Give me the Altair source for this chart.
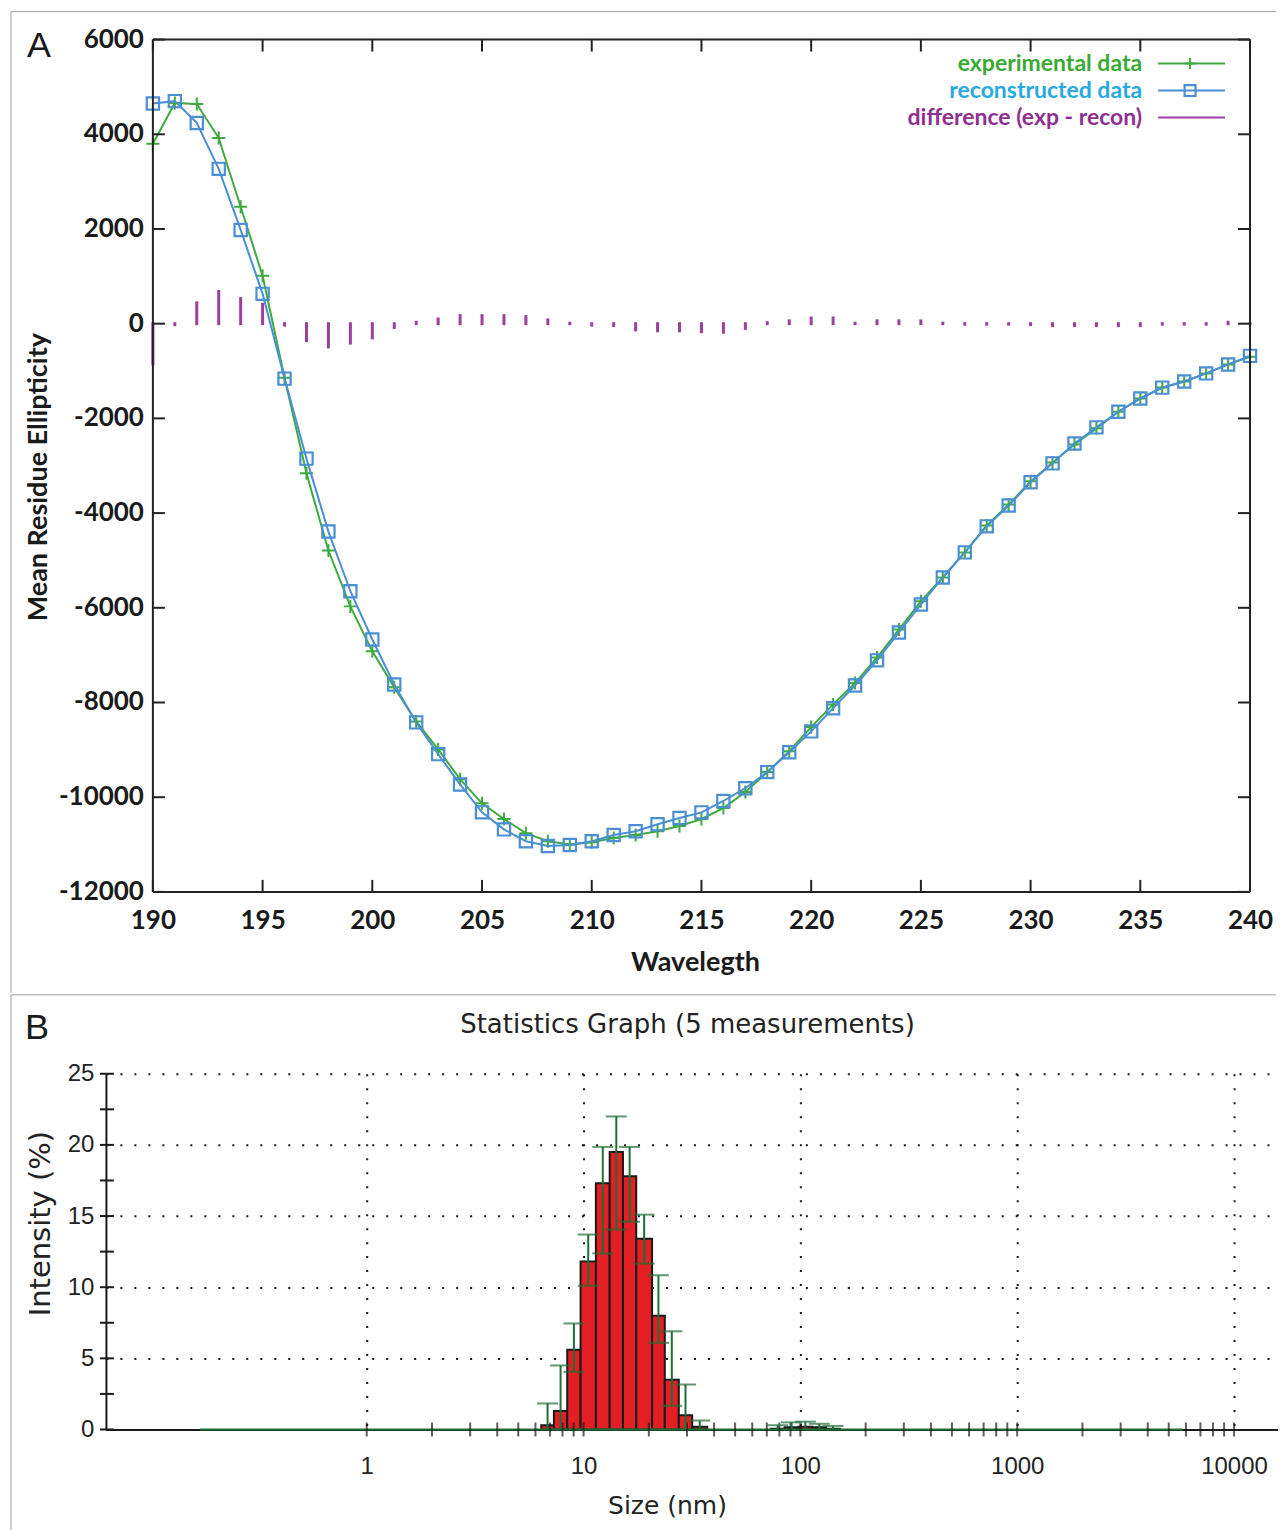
import altair as alt
import pandas as pd

# ---------------- Panel A data (CD spectrum) ----------------
wavelength = list(range(190, 241))
experimental = [3800, 4660, 4640, 3920, 2470, 1010, -1140, -3160, -4790, -5970,
                -6920, -7680, -8400, -8990, -9620, -10130, -10460, -10760, -10930, -11000,
                -10950, -10860, -10800, -10720, -10610, -10460, -10230, -9890, -9470, -9030,
                -8520, -8040, -7590, -7050, -6460, -5860, -5360, -4830, -4260, -3820,
                -3330, -2930, -2550, -2210, -1860, -1580, -1350, -1220, -1050, -860, -700]
reconstructed = [4650, 4700, 4240, 3270, 1980, 630, -1160, -2850, -4390, -5650,
                 -6670, -7620, -8420, -9090, -9730, -10320, -10680, -10930, -11030, -11010,
                 -10930, -10800, -10720, -10570, -10440, -10320, -10080, -9810, -9470, -9050,
                 -8610, -8120, -7640, -7110, -6520, -5930, -5360, -4830, -4280, -3840,
                 -3350, -2950, -2530, -2190, -1860, -1580, -1350, -1220, -1050, -860, -680]
difference = [-850, -20, 440, 680, 530, 410, -30, -360, -490, -410,
              -300, -80, 30, 100, 170, 170, 170, 150, 80, 10,
              -30, -40, -130, -150, -150, -170, -180, -100, 20, 60,
              120, 120, 10, 60, 60, 60, 10, -10, -10, -10,
              -20, -40, -40, -40, -40, -40, -10, -10, -10, 30, 0]
x_ticks_a = [190, 195, 200, 205, 210, 215, 220, 225, 230, 235, 240]
y_ticks_a = [-12000, -10000, -8000, -6000, -4000, -2000, 0, 2000, 4000, 6000]
legend_labels = ["experimental data", "reconstructed data", "difference (exp - recon)"]

# ---------------- Panel B data (DLS size distribution) ----------------
bin_lo = [6.38, 7.30, 8.41, 9.69, 11.4, 13.2, 15.2, 17.5, 20.7, 23.7, 27.5, 31.7,
          73.0, 84.6, 98.0, 113.5, 131.4]
bin_hi = [7.30, 8.41, 9.69, 11.4, 13.2, 15.2, 17.5, 20.7, 23.7, 27.5, 31.7, 37.2,
          84.6, 98.0, 113.5, 131.4, 152.2]
intensity = [0.3, 1.3, 5.6, 11.8, 17.3, 19.5, 17.8, 13.4, 8.0, 3.5, 1.0, 0.2,
             0.05, 0.15, 0.2, 0.15, 0.05]
err_low = [0, 0, 4.05, 10.1, 12.37, 14.05, 14.6, 11.66, 6.09, 1.66, 0, 0,
           0, 0, 0, 0, 0]
err_high = [1.83, 4.5, 7.45, 13.7, 19.86, 22.0, 19.86, 15.1, 10.84, 6.9, 3.16, 0.63,
            0.3, 0.5, 0.55, 0.4, 0.25]
baseline_span = [0.17, 5800]
size_labels = [1, 10, 100, 1000, 10000]
size_ticks = [m * 10 ** e for e in range(4) for m in range(1, 10)] + [10000]
int_labels = [0, 5, 10, 15, 20, 25]
int_ticks = [0, 2.5, 5, 7.5, 10, 12.5, 15, 17.5, 20, 22.5, 25]

# ---------------- styling ----------------
XMIN, XMAX = 190, 240
YMIN, YMAX = -12000, 6000
WA, HA = 1145, 853          # panel A plot group starts at the same x as panel B
WB, HB = 1173, 356
FA = "Lato"
FB = "DejaVu Sans"
FN = "Liberation Sans"
GREEN = "#3faa3f"
BLUE = "#4a8fd4"
PURPLE = "#9c3f9f"
TXT_COLORS = ["#3aaa35", "#29a9e1", "#8e3091"]
FRAME = "#a0a0a0"
DKGREEN = "#1f6e35"
INK = "#1a1a1a"

one = pd.DataFrame({"t": [""]})


def label(txt, x, y, **kw):
    return alt.Chart(pd.DataFrame({"t": [txt]})).mark_text(**kw).encode(
        text="t:N", x=alt.value(x), y=alt.value(y))


def hline(x1, x2, y, color, w=1):
    return alt.Chart(one).mark_rule(color=color, strokeWidth=w).encode(
        x=alt.value(x1), x2=alt.value(x2), y=alt.value(y))


def vline(x, y1, y2, color, w=1):
    return alt.Chart(one).mark_rule(color=color, strokeWidth=w).encode(
        x=alt.value(x), y=alt.value(y1), y2=alt.value(y2))


# ---------------- Panel A ----------------
dfA = pd.DataFrame({"wl": wavelength, "exp": experimental,
                    "rec": reconstructed, "diff": difference})
# the frame starts 47 px right of the group origin
xA = alt.Scale(domain=[XMIN - 47 * (XMAX - XMIN) / 1098, XMAX], nice=False, zero=False)
yA = alt.Scale(domain=[YMIN, YMAX], nice=False, zero=False)
axA_x = alt.Axis(values=x_ticks_a, tickSize=0, domain=False, grid=False,
                 labelFont=FA, labelFontWeight="bold", labelFontSize=26,
                 labelColor=INK, labelPadding=16, labelFlush=False,
                 labelOverlap=False, labelExpr="datum.value + ''")

baseA = alt.Chart(dfA)
diff_layer = baseA.mark_rule(color=PURPLE, strokeWidth=3, strokeCap="square").encode(
    x=alt.X("wl:Q", scale=xA, axis=axA_x, title=None),
    y=alt.Y("diff:Q", scale=yA, axis=None),
    y2=alt.datum(0))
exp_line = baseA.mark_line(color=GREEN, strokeWidth=2).encode(
    x=alt.X("wl:Q", title=None), y=alt.Y("exp:Q", title=None))
exp_pts = baseA.mark_point(shape="M-1,0L1,0M0,-1L0,1", size=170, color=GREEN,
                           strokeWidth=2, opacity=1).encode(
    x=alt.X("wl:Q", title=None), y=alt.Y("exp:Q", title=None))
rec_line = baseA.mark_line(color=BLUE, strokeWidth=2).encode(
    x=alt.X("wl:Q", title=None), y=alt.Y("rec:Q", title=None))
rec_pts = baseA.mark_point(shape="square", size=150, color=BLUE, filled=False,
                           strokeWidth=2.2, opacity=1).encode(
    x=alt.X("wl:Q", title=None), y=alt.Y("rec:Q", title=None))

# frame
frame = [
    alt.Chart(one).mark_rule(color="#222", strokeWidth=2).encode(
        x=alt.datum(XMIN), y=alt.datum(YMIN), y2=alt.datum(YMAX)),
    alt.Chart(one).mark_rule(color="#222", strokeWidth=2).encode(
        x=alt.datum(XMAX), y=alt.datum(YMIN), y2=alt.datum(YMAX)),
    alt.Chart(one).mark_rule(color="#222", strokeWidth=2).encode(
        y=alt.datum(YMIN), x=alt.datum(XMIN), x2=alt.datum(XMAX)),
    alt.Chart(one).mark_rule(color="#222", strokeWidth=2).encode(
        y=alt.datum(YMAX), x=alt.datum(XMIN), x2=alt.datum(XMAX)),
]

ytk = alt.Chart(pd.DataFrame({"v": y_ticks_a}))
xtk = alt.Chart(pd.DataFrame({"v": x_ticks_a}))
tick_left = ytk.mark_rule(color="#222", strokeWidth=2, x2Offset=12).encode(
    y=alt.Y("v:Q", title=None), x=alt.datum(XMIN), x2=alt.datum(XMIN))
tick_right = ytk.mark_rule(color="#222", strokeWidth=2, x2Offset=-12).encode(
    y=alt.Y("v:Q", title=None), x=alt.datum(XMAX), x2=alt.datum(XMAX))
tick_bottom = xtk.mark_rule(color="#222", strokeWidth=2, y2Offset=-12).encode(
    x=alt.X("v:Q", title=None), y=alt.datum(YMIN), y2=alt.datum(YMIN))
tick_top = xtk.mark_rule(color="#222", strokeWidth=2, y2Offset=12).encode(
    x=alt.X("v:Q", title=None), y=alt.datum(YMAX), y2=alt.datum(YMAX))
ylabels = ytk.transform_calculate(lab="datum.v + ''").mark_text(
    align="right", baseline="middle", dx=-9, font=FA, fontWeight="bold",
    fontSize=26, color=INK).encode(
    y=alt.Y("v:Q", title=None), x=alt.datum(XMIN), text="lab:N")

legend_layers = []
legend_rows = [24, 51, 78]
for lab, col, yy in zip(legend_labels, TXT_COLORS, legend_rows):
    legend_layers.append(label(lab, 1037, yy, align="right", baseline="middle",
                               font=FA, fontWeight="bold", fontSize=23, color=col))
legend_layers.append(hline(1053, 1120, legend_rows[0], GREEN, 2))
legend_layers.append(hline(1053, 1120, legend_rows[1], BLUE, 2))
legend_layers.append(hline(1053, 1120, legend_rows[2], PURPLE, 2))
legend_layers.append(alt.Chart(one).mark_point(shape="M-1,0L1,0M0,-1L0,1", size=120,
                                                color=GREEN, strokeWidth=2, opacity=1).encode(
    x=alt.value(1085), y=alt.value(legend_rows[0])))
legend_layers.append(alt.Chart(one).mark_point(shape="square", size=120, color=BLUE,
                                                filled=False, strokeWidth=2.2, opacity=1).encode(
    x=alt.value(1085), y=alt.value(legend_rows[1])))

textA = [
    label("A", -67, 17, align="center", baseline="alphabetic", font="Liberation Sans",
          fontSize=36, color=INK),
    label("Mean Residue Ellipticity", -67, 438, align="center", baseline="middle",
          angle=270, font=FA, fontWeight="bold", fontSize=27, color=INK),
    label("Wavelegth", 590, 932, align="center", baseline="alphabetic", font=FA,
          fontWeight="bold", fontSize=27, color=INK),
    hline(-95, 1171, -28, FRAME),
    vline(-95, -28, 954, FRAME),
]

panelA = alt.layer(diff_layer, exp_line, exp_pts, rec_line, rec_pts, *frame,
                   tick_left, tick_right, tick_bottom, tick_top, ylabels,
                   *legend_layers, *textA).properties(width=WA, height=HA)

# ---------------- Panel B ----------------
dfB = pd.DataFrame({"lo": bin_lo, "hi": bin_hi, "val": intensity,
                    "elo": err_low, "ehi": err_high})
dfB["mid"] = (dfB["lo"] * dfB["hi"]) ** 0.5
xB = alt.Scale(type="log", domain=[0.0627, 15950], nice=False)
yB = alt.Scale(domain=[0, 25], nice=False, zero=True)
axB_x = alt.Axis(values=size_labels, format="d", tickSize=0, domain=True,
                 domainColor=INK, domainWidth=2, grid=True, gridColor=INK,
                 gridDash=[2, 12], gridWidth=2, labelFont=FN, labelFontSize=24,
                 labelColor="#222", labelPadding=25, labelFlush=False, labelOverlap=False)
axB_y = alt.Axis(values=int_labels, tickSize=0, domain=True, domainColor=INK,
                 domainWidth=2, grid=True, gridColor=INK, gridDash=[2, 12],
                 gridWidth=2, labelFont=FN, labelFontSize=24, labelColor="#222",
                 labelPadding=12, labelOverlap=False)

baseB = alt.Chart(dfB)
bars = baseB.mark_rect(fill="#e31e24", stroke=INK, strokeWidth=2).encode(
    x=alt.X("lo:Q", scale=xB, axis=axB_x, title=None),
    x2="hi:Q",
    y=alt.Y("val:Q", scale=yB, axis=axB_y, title=None),
    y2=alt.datum(0))
green_base = alt.Chart(pd.DataFrame({"a": [baseline_span[0]], "b": [baseline_span[1]]})).mark_rule(
    color=DKGREEN, strokeWidth=2).encode(
    x=alt.X("a:Q", title=None), x2="b:Q", y=alt.datum(0))
size_tick_layer = alt.Chart(pd.DataFrame({"s": size_ticks})).mark_tick(
    color=INK, thickness=2, size=14, orient="vertical").encode(
    x=alt.X("s:Q", title=None), y=alt.datum(0))
int_tick_layer = alt.Chart(pd.DataFrame({"v": int_ticks})).mark_rule(
    color=INK, strokeWidth=2).encode(
    y=alt.Y("v:Q", title=None), x=alt.value(-6), x2=alt.value(8))
err_rules = baseB.mark_rule(color=DKGREEN, strokeWidth=2).encode(
    x=alt.X("mid:Q", title=None), y=alt.Y("elo:Q", title=None), y2="ehi:Q")
cap_hi = baseB.mark_tick(color=DKGREEN, thickness=2, size=21, orient="horizontal").encode(
    x=alt.X("mid:Q", title=None), y=alt.Y("ehi:Q", title=None))
cap_lo = baseB.transform_filter("datum.elo > 0").mark_tick(
    color=DKGREEN, thickness=2, size=21, orient="horizontal").encode(
    x=alt.X("mid:Q", title=None), y=alt.Y("elo:Q", title=None))

textB = [
    label("B", -69, -35, align="center", baseline="alphabetic", font="Liberation Sans",
          fontSize=36, color=INK),
    label("Statistics Graph (5 measurements)", 582, -41, align="center",
          baseline="alphabetic", font=FB, fontSize=26, color="#222"),
    label("Size (nm)", 562, 441, align="center", baseline="alphabetic", font=FB,
          fontSize=25, color="#222"),
    label("Intensity (%)", -65, 150, align="center", baseline="middle", angle=270,
          font=FB, fontSize=29, color="#222"),
    hline(-95, 1171, -79, FRAME),
    vline(-95, -79, 459, FRAME),
]

panelB = alt.layer(bars, green_base, size_tick_layer, int_tick_layer, err_rules,
                   cap_hi, cap_lo, *textB).properties(width=WB, height=HB)

chart = alt.vconcat(panelA, panelB, spacing=0).properties(
    padding={"left": 2, "top": 2, "right": 0, "bottom": 0}
).configure_view(strokeWidth=0)

chart.save("out.html", embed_options={"renderer": "svg", "actions": False})
